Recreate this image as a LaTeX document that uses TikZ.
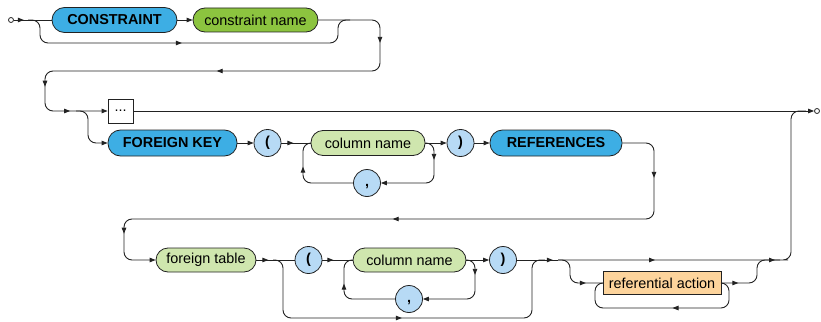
\documentclass[tikz,border=0pt]{standalone}
\usepackage{fontspec}
\setmainfont{Liberation Sans}
\usetikzlibrary{arrows.meta,decorations.markings}

\definecolor{kwblue}{HTML}{3DAEE4}
\definecolor{namegreen}{HTML}{8CC43F}
\definecolor{palegreen}{HTML}{CFE6AE}
\definecolor{paleblue}{HTML}{B7DAF5}
\definecolor{actorange}{HTML}{FDD49C}
\definecolor{wire}{HTML}{222222}

\begin{document}
\begin{tikzpicture}[
  x=1pt,
  y=-1pt,
  >={Triangle[length=6pt,width=4.5pt]},
  every node/.style={font=\fontsize{14.4}{16}\selectfont, inner sep=0pt, draw=wire, line width=0.8pt},
  keyword/.style={rectangle, rounded corners=12.5pt, fill=kwblue, minimum height=25pt, font=\fontsize{14.4}{16}\selectfont\bfseries},
  ident/.style={rectangle, rounded corners=12pt, fill=palegreen, minimum height=24pt},
  punct/.style={circle, fill=paleblue, minimum size=27pt, text height=10pt, text depth=3pt, font=\fontsize{14.4}{16}\selectfont\bfseries},
  term/.style={circle, fill=white, minimum size=5pt},
  wiring/.style={draw=wire, line width=0.9pt, rounded corners=8pt},
  tipat/.style={postaction={decorate,decoration={markings,mark=at position #1 with {\arrow{>}}}}},
]
\useasboundingbox (0,0) rectangle (821,321);

\node[term] (start) at (11,20) {};
\node[keyword, minimum width=125pt] (constraint) at (114.5,20) {CONSTRAINT};
\node[ident, fill=namegreen, minimum width=125pt] (cname) at (255.5,20) {constraint name};
\node[rectangle, fill=white, minimum width=25pt, minimum height=24pt] (dots) at (120.5,111) {...};
\node[term] (finish) at (817,111) {};
\node[keyword, minimum width=129pt, minimum height=26pt] (fkey) at (172.5,143) {FOREIGN KEY};
\node[punct] (lpar1) at (267.5,143) {(};
\node[ident, minimum width=114pt, minimum height=25pt] (col1) at (368,143) {column name};
\node[punct] (comma1) at (367,183) {,};
\node[punct] (rpar1) at (460.5,143) {)};
\node[keyword, minimum width=132pt, minimum height=26pt] (refs) at (556,143) {REFERENCES};
\node[ident, minimum width=100pt] (ftable) at (206,260) {foreign table};
\node[punct] (lpar2) at (308.5,260) {(};
\node[ident, minimum width=113pt] (col2) at (409.5,260) {column name};
\node[punct] (comma2) at (409,299) {,};
\node[punct] (rpar2) at (503,260) {)};
\node[rectangle, fill=actorange, minimum width=118pt, minimum height=23pt] (action) at (662,283) {referential action};

\coordinate (b1) at (28,20);
\coordinate (j1) at (350,20);
\coordinate (b2) at (76,111);
\coordinate (b3) at (273,260);
\coordinate (j3) at (545,260);
\coordinate (b4) at (558,260);
\coordinate (j4) at (780,260);
\coordinate (j5) at (806,111);

\draw[wiring, tipat=10pt] (start) -- (constraint);
\draw[wiring, tipat=0.48] (b1) -| (40,43) -| (338,20) -- (j1);
\draw[wiring, ->] (constraint) -- (cname);
\draw[wiring, ->, tipat=81pt, tipat=269pt, tipat=453pt, tipat=499pt]
  (cname) -- (380,20) -- (380,71) -- (45,71) -- (45,111) -- (dots);
\draw[wiring, ->] (b2) -| (88,143) -- (fkey);
\draw[wiring, ->] (dots) -- (finish);

\draw[wiring, ->] (fkey) -- (lpar1);
\draw[wiring, tipat=12pt] (lpar1) -- (col1);
\draw[wiring, ->, tipat=22pt] (col1.east) -| (434,183) -- (comma1);
\draw[wiring, tipat=63pt] (comma1) -| (303,143) -- (col1.west);
\draw[wiring, ->] (col1) -- (rpar1);
\draw[wiring, ->] (rpar1) -- (refs);
\draw[wiring, ->, tipat=63pt, tipat=362pt, tipat=642pt]
  (refs) -- (654,143) -- (654,219) -- (124,219) -- (124,260) -- (ftable);

\draw[wiring, tipat=12pt] (ftable) -- (lpar2);
\draw[wiring, tipat=180pt] (b3) -| (283,318) -| (532,260) -- (j3);
\draw[wiring, tipat=11pt] (lpar2) -- (col2);
\draw[wiring, ->, tipat=20pt] (col2.east) -| (475,299) -- (comma2);
\draw[wiring, tipat=63pt] (comma2) -| (344,260) -- (col2.west);
\draw[wiring, ->] (col2) -- (rpar2);
\draw[wiring, tipat=36pt] (rpar2) -- (b4);
\draw[wiring, tipat=97pt, tipat=217pt] (b4) -- (j4) -| (791,111) -- (j5);
\draw[wiring, tipat=44pt] (b4) -| (570,283) -- (action);
\draw[wiring, tipat=83pt] (action.east) -| (729,308) -| (595,283) -- (action.west);
\draw[wiring, tipat=17pt] (action) -| (757,260) -- (j4);
\end{tikzpicture}
\end{document}
